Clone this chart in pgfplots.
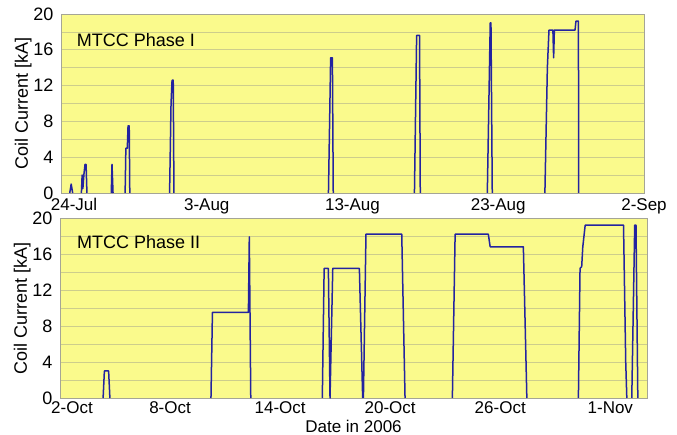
\documentclass[border=0pt]{standalone}
\usepackage{pgfplots}
\pgfplotsset{compat=1.18}
\usepackage{fontspec}
\setmainfont{Liberation Sans}

\definecolor{chartbg}{RGB}{250,250,140}
\definecolor{gridc}{RGB}{205,205,140}
\definecolor{framec}{RGB}{165,165,150}
\definecolor{linec}{RGB}{35,35,160}

\pgfplotsset{
  coilaxis/.style={
    scale only axis,
    axis background/.style={fill=chartbg},
    axis line style={framec, line width=0.8pt},
    ymin=0, ymax=20,
    ytick={0,4,...,20},
    minor ytick={2,6,...,18},
    ymajorgrids, yminorgrids,
    major grid style={gridc, line width=0.6pt},
    minor grid style={gridc, line width=0.6pt},
    major tick length=0pt, minor tick length=0pt,
    tick label style={font=\fontsize{17}{19}\selectfont},
    yticklabel style={font=\fontsize{18}{20}\selectfont, xshift=-4pt},
    /pgf/number format/assume math mode=true,
    label style={font=\fontsize{18}{20}\selectfont},
    ylabel={Coil Current [kA]},
    ylabel shift=-5pt,
    unbounded coords=jump,
    clip=false,
  },
  coilline/.style={linec, line width=1.5pt, line join=round},
}

\begin{document}
\begin{tikzpicture}
\useasboundingbox (0,0) rectangle (677pt,435pt);

% Phase I, days counted from 24-Jul
\begin{axis}[coilaxis,
  at={(61pt,242pt)}, anchor=south west,
  width=583pt, height=179pt,
  xmin=0, xmax=40,
  xtick={0,10,20,30,40},
  xticklabels={\hspace*{26pt}24-Jul,3-Aug,13-Aug,23-Aug,2-Sep},
  xticklabel style={yshift=-2pt},
]
\addplot[coilline] coordinates {
  (0.6,0) (0.7,1.0) (0.8,0) (nan,nan)
  (1.4,0) (1.45,2.0) (1.5,0.5) (1.58,2.2) (1.65,3.2) (1.72,3.2) (1.78,0) (nan,nan)
  (3.45,0) (3.5,3.2) (3.57,0) (nan,nan)
  (4.4,0) (4.45,5.0) (4.55,5.0) (4.6,7.5) (4.68,7.5) (4.72,0) (nan,nan)
  (7.45,0) (7.55,10.0) (7.62,12.6) (7.7,12.6) (7.75,0) (nan,nan)
  (18.35,0) (18.45,10.0) (18.5,15.1) (18.62,15.1) (18.68,0) (nan,nan)
  (24.25,0) (24.4,17.6) (24.6,17.6) (24.65,0) (nan,nan)
  (29.25,0) (29.45,19.0) (29.5,19.0) (29.59,0) (nan,nan)
  (33.2,0) (33.37,14.0) (33.48,18.2) (33.75,18.2) (33.8,15.1) (33.85,18.2)
  (35.27,18.2) (35.33,19.2) (35.5,19.2) (35.52,0)
};
\node[anchor=west, inner sep=0pt, font=\fontsize{18}{20}\selectfont]
  at (rel axis cs:0.027,0.855) {MTCC Phase I};
\end{axis}

% Phase II, days counted from 2-Oct
\begin{axis}[coilaxis,
  at={(60pt,37pt)}, anchor=south west,
  width=587pt, height=180pt,
  xmin=0, xmax=32,
  xtick={0,6,12,18,24,30},
  xticklabels={\hspace*{24pt}2-Oct,8-Oct,14-Oct,20-Oct,26-Oct,1-Nov},
  xlabel={Date in 2006},
  xlabel style={font=\fontsize{17}{19}\selectfont, yshift=0pt},
]
\addplot[coilline] coordinates {
  (2.35,0) (2.42,3.0) (2.65,3.0) (2.72,0) (nan,nan)
  (8.23,0) (8.31,9.5) (10.27,9.5) (10.32,17.9) (10.4,0) (nan,nan)
  (14.3,0) (14.4,14.4) (14.63,14.4) (14.72,0) (14.87,14.4)
  (16.32,14.4) (16.5,0) (nan,nan)
  (16.54,0) (16.68,18.2) (18.63,18.2) (18.81,0) (nan,nan)
  (21.39,0) (21.54,18.2) (23.35,18.2) (23.45,16.8)
  (25.26,16.8) (25.45,0) (nan,nan)
  (28.26,0) (28.35,14.4) (28.44,14.6) (28.5,16.8) (28.63,19.2)
  (30.72,19.2) (30.84,4.0) (30.9,0) (nan,nan)
  (31.17,0) (31.33,19.2) (31.4,19.2) (31.5,0)
};
\node[anchor=west, inner sep=0pt, font=\fontsize{18}{20}\selectfont]
  at (rel axis cs:0.029,0.867) {MTCC Phase II};
\end{axis}
\end{tikzpicture}
\end{document}
